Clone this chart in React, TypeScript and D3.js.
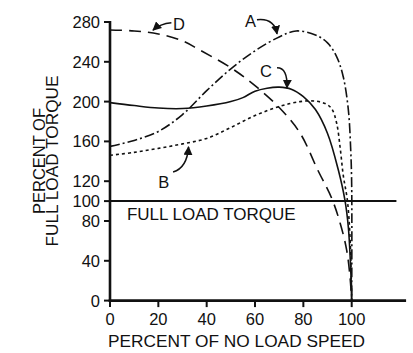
import * as d3 from "d3";

// speed (% of no load) vs torque (% of full load)
const curveA: [number, number][] = [
  [0, 155], [10, 161], [20, 170], [30, 187], [40, 211], [50, 233], [60, 251], [70, 265],
  [77, 271], [85, 267], [90, 259], [93.8, 245], [96.5, 225], [98.6, 192], [99.6, 151],
  [100, 115], [100, 0],
];
const curveB: [number, number][] = [
  [0, 146], [10, 149], [20, 153], [30, 157.5], [40, 163], [50, 174], [60, 186], [70, 195],
  [78.6, 200], [85, 200.5], [89, 198], [91.7, 193], [93.8, 178], [95.3, 152], [96.5, 126],
  [98.2, 101], [99.3, 64], [100, 0],
];
const curveC: [number, number][] = [
  [0, 199], [10, 196], [20, 193.5], [30, 193], [40, 195.5], [50, 200], [55, 204], [60, 210.5],
  [65, 213.5], [70, 214.5], [75, 212.5], [80, 205], [85, 192], [90, 168], [94.5, 131],
  [97.2, 101], [98.6, 74], [99.6, 31], [100, 0],
];
const curveD: [number, number][] = [
  [0, 272], [10, 271], [20, 268], [30, 261], [37, 252], [50, 234], [60, 216], [70, 194],
  [78.6, 168.5], [86, 131], [91.7, 103], [95.2, 78], [97.9, 51], [99.3, 24], [100, 0],
];

const xTicks = [0, 20, 40, 60, 80, 100];
const yTicks = [0, 40, 80, 100, 120, 160, 200, 240, 280];
const fullLoad = 100;

// label text position, arrow start, control, tip (data units)
const labels = [
  { name: "D", text: [26.1, 272.2], from: [25.4, 279.2], ctrl: [20.7, 278.2], to: [17.8, 271.8] },
  { name: "A", text: [55.9, 274.7], from: [60.8, 282.2], ctrl: [67.9, 284.2], to: [69.1, 268.1] },
  { name: "C", text: [62.1, 225.2], from: [69.1, 233.9], ctrl: [73.6, 233.9], to: [73.2, 213.8] },
  { name: "B", text: [20, 113], from: [26.1, 129.3], ctrl: [31.9, 133.4], to: [32.5, 154.5] },
];

const font = "Arial, 'Liberation Sans', Helvetica, sans-serif";

export default function App() {
  const x = d3.scaleLinear().domain([0, 100]).range([110, 351.7]);
  const y = d3.scaleLinear().domain([0, 280]).range([300.6, 22]);

  const line = d3
    .line<[number, number]>()
    .x((d) => x(d[0]))
    .y((d) => y(d[1]))
    .curve(d3.curveCatmullRom.alpha(0.5));

  const series = [
    { data: curveA, dash: "10,3,2,3" },
    { data: curveB, dash: "3,3" },
    { data: curveC, dash: "none" },
    { data: curveD, dash: "12,7" },
  ];

  return (
    <svg
      width={413}
      height={353}
      style={{ position: "absolute", left: 0, top: 0, background: "#fff" }}
      fontFamily={font}
    >
      <defs>
        <marker id="arr" viewBox="0 0 10 10" refX="9" refY="5" markerWidth="9" markerHeight="9"
          markerUnits="userSpaceOnUse" orient="auto">
          <path d="M0,0 L10,5 L0,10 z" fill="#111" />
        </marker>
      </defs>

      {series.map((s, i) => (
        <path key={i} d={line(s.data) || ""} fill="none" stroke="#111" strokeWidth={1.6}
          strokeDasharray={s.dash} />
      ))}

      {/* full load torque */}
      <line x1={x(0)} x2={x(118.5)} y1={y(fullLoad)} y2={y(fullLoad)} stroke="#111" strokeWidth={2} />
      <text x={x(7)} y={y(fullLoad) + 19} fontSize={17} fill="#111">FULL LOAD TORQUE</text>

      {/* axes */}
      <line x1={x(0)} x2={x(0)} y1={y(281)} y2={y(0) + 1.3} stroke="#111" strokeWidth={2.6} />
      <line x1={x(0) - 1.3} x2={x(122.5)} y1={y(0)} y2={y(0)} stroke="#111" strokeWidth={2.6} />
      {yTicks.map((t) => (
        <g key={t}>
          <line x1={x(0) - 6} x2={x(0)} y1={y(t)} y2={y(t)} stroke="#111" strokeWidth={2} />
          <text x={x(0) - 10} y={y(t)} dy="0.36em" textAnchor="end" fontSize={16.5} fill="#111">{t}</text>
        </g>
      ))}
      {xTicks.map((t) => (
        <g key={t}>
          <line x1={x(t)} x2={x(t)} y1={y(0)} y2={y(0) + 6.5} stroke="#111" strokeWidth={2} />
          <text x={x(t)} y={325} textAnchor="middle" fontSize={16.5} fill="#111">{t}</text>
        </g>
      ))}

      <text x={108} y={346.5} fontSize={16.5} fill="#111" textLength={257} lengthAdjust="spacingAndGlyphs">
        PERCENT OF NO LOAD SPEED
      </text>
      <g transform="translate(45,161) rotate(-90)">
        <text textAnchor="middle" fontSize={16.5} fill="#111">PERCENT OF</text>
      </g>
      <g transform="translate(58.3,161) rotate(-90)">
        <text textAnchor="middle" fontSize={16.5} fill="#111" textLength={171} lengthAdjust="spacingAndGlyphs"
          x={0}>FULL LOAD TORQUE</text>
      </g>

      {labels.map((l) => (
        <g key={l.name}>
          <text x={x(l.text[0])} y={y(l.text[1])} fontSize={16.5} fill="#111">{l.name}</text>
          <path
            d={`M${x(l.from[0])},${y(l.from[1])} Q${x(l.ctrl[0])},${y(l.ctrl[1])} ${x(l.to[0])},${y(l.to[1])}`}
            fill="none" stroke="#111" strokeWidth={1.5} markerEnd="url(#arr)" />
        </g>
      ))}
    </svg>
  );
}
